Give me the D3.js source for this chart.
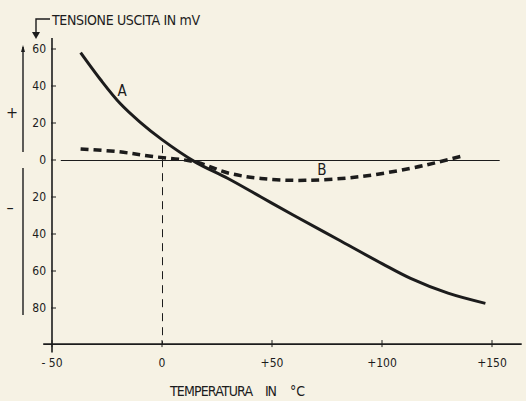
<!DOCTYPE html>
<html><head><meta charset="utf-8">
<script src="https://cdn.jsdelivr.net/npm/d3@7"></script>
<style>
html,body{margin:0;padding:0;background:#f6f2e4;}
svg{display:block;}
text{font-family:"Liberation Sans Narrow","DejaVu Sans Condensed","DejaVu Sans",sans-serif;fill:#1c1c1c;}
</style></head><body>
<svg id="c" width="526" height="401"></svg>
<script>
// Curve A: output voltage (mV) vs temperature (°C)
const tempA = [-37, -28, -19, -10, 0, 15, 30, 45, 60, 80, 100, 113, 130, 147];
const voltA = [58, 43.5, 30.5, 20.5, 11, -1, -10, -20, -30, -43, -56, -64, -72, -77.5];
// Curve B (dashed)
const tempB = [-37, -20, -5, 15, 30, 45, 65, 90, 113, 126, 136];
const voltB = [6, 4.5, 2, -1, -7, -10, -11, -9, -4.5, -1, 2];
const yTicks = [60, 40, 20, 0, -20, -40, -60, -80];
const xTicks = [-50, 0, 50, 100, 150];
const xTickLabels = ["- 50", "0", "+50", "+100", "+150"];
const yTitle = "TENSIONE USCITA IN mV";
const xTitleWords = ["TEMPERATURA", "IN", "°C"];

const ink = "#1c1c1c";
const svg = d3.select("#c");
const x = d3.scaleLinear().domain([-50, 150]).range([52, 492]);
const y = d3.scaleLinear().domain([60, -80]).range([49, 308]);

// axes lines
svg.append("line").attr("x1", x(-54)).attr("x2", x(163.5)).attr("y1", y(-99.5)).attr("y2", y(-99.5))
  .attr("stroke", ink).attr("stroke-width", 1.6);
svg.append("line").attr("x1", x(-50)).attr("x2", x(-50)).attr("y1", y(66)).attr("y2", y(-104))
  .attr("stroke", ink).attr("stroke-width", 1.6);

// zero line
svg.append("line").attr("x1", x(-46)).attr("x2", x(153.5)).attr("y1", y(0) + 0.5).attr("y2", y(0) + 0.5)
  .attr("stroke", ink).attr("stroke-width", 1);
// dashed vertical at 0 °C
svg.append("line").attr("x1", x(0) + 0.5).attr("x2", x(0) + 0.5).attr("y1", y(8)).attr("y2", y(-99.5))
  .attr("stroke", ink).attr("stroke-width", 1).attr("stroke-dasharray", "8,6");

// y ticks
const yg = svg.append("g");
yTicks.forEach(v => {
  yg.append("line").attr("x1", x(-50) - 1).attr("x2", x(-50) + 4).attr("y1", y(v)).attr("y2", y(v))
    .attr("stroke", ink).attr("stroke-width", 1);
  yg.append("text").attr("x", x(-50) - 6).attr("y", y(v)).attr("dy", "0.35em")
    .attr("text-anchor", "end").attr("font-size", 12).text(Math.abs(v));
});
// x ticks
const xg = svg.append("g");
xTicks.forEach((v, i) => {
  xg.append("line").attr("x1", x(v)).attr("x2", x(v)).attr("y1", y(-99.5) - 4).attr("y2", y(-99.5) + 3)
    .attr("stroke", ink).attr("stroke-width", 1);
  xg.append("text").attr("x", x(v)).attr("y", y(-99.5) + 23)
    .attr("text-anchor", "middle").attr("font-size", 12).text(xTickLabels[i]);
});

// curves
const line = d3.line().x(d => x(d[0])).y(d => y(d[1])).curve(d3.curveCatmullRom.alpha(0.5));
svg.append("path").attr("d", line(tempA.map((t, i) => [t, voltA[i]])))
  .attr("fill", "none").attr("stroke", ink).attr("stroke-width", 3);
svg.append("path").attr("d", line(tempB.map((t, i) => [t, voltB[i]])))
  .attr("fill", "none").attr("stroke", ink).attr("stroke-width", 3.5).attr("stroke-dasharray", "8,5");

// curve labels
svg.append("text").attr("x", 122).attr("y", 96).attr("text-anchor", "middle").attr("font-size", 15).text("A");
svg.append("text").attr("x", 322).attr("y", 175).attr("text-anchor", "middle").attr("font-size", 15).text("B");

// y title with bracket arrow
svg.append("text").attr("x", 52).attr("y", 25).attr("font-size", 14).attr("textLength", 148).text(yTitle);
svg.append("path").attr("d", "M50,19 L36,19 L36,33").attr("fill", "none").attr("stroke", ink).attr("stroke-width", 1.4);
svg.append("path").attr("d", "M32,32 L40,32 L36,39 Z").attr("fill", ink);

// left +/- line
svg.append("line").attr("x1", 23).attr("x2", 23).attr("y1", 47).attr("y2", 152).attr("stroke", ink).attr("stroke-width", 1.4);
svg.append("line").attr("x1", 23).attr("x2", 23).attr("y1", 168).attr("y2", 315).attr("stroke", ink).attr("stroke-width", 1.4);
svg.append("path").attr("d", "M21,52 L25,52 L23,45 Z").attr("fill", ink);
svg.append("text").attr("x", 12).attr("y", 112).attr("dy", "0.35em").attr("text-anchor", "middle").attr("font-size", 16).text("+");
svg.append("text").attr("x", 10).attr("y", 207).attr("dy", "0.35em").attr("text-anchor", "middle").attr("font-size", 16).text("–");

// x title (words spaced like the original)
const xtPos = [[170, 83], [265, 12], [290, 15]];
xTitleWords.forEach((w, i) => {
  svg.append("text").attr("x", xtPos[i][0]).attr("y", 396).attr("font-size", 14)
    .attr("textLength", xtPos[i][1]).text(w);
});
</script>
</body></html>
